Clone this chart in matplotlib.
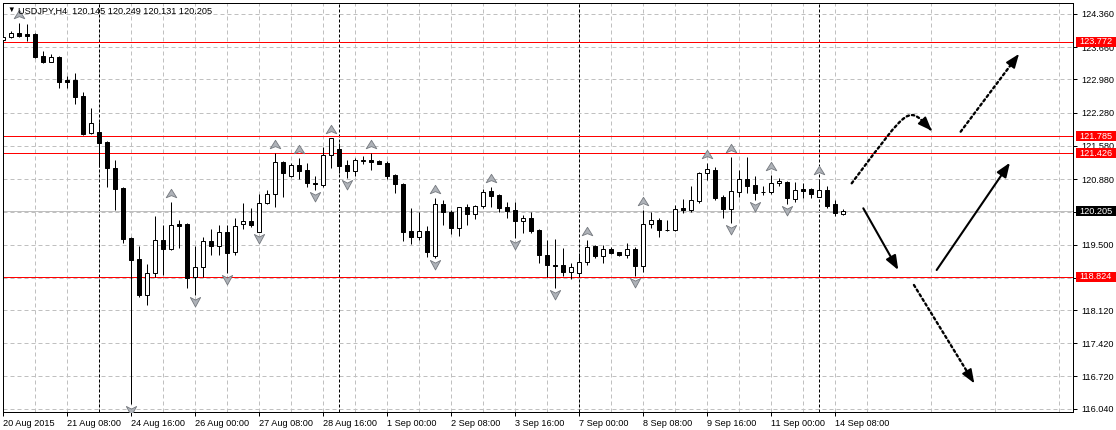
import matplotlib
matplotlib.use("Agg")
import matplotlib.pyplot as plt
import matplotlib.transforms as mtransforms
from matplotlib.path import Path
from matplotlib.patches import FancyArrowPatch, Rectangle

plt.rcParams['font.family'] = ['Liberation Sans', 'DejaVu Sans']

# USDJPY H4 bars, 20 Aug 2015 00:00 .. 14 Sep 2015 04:00
opens = [123.812, 123.869, 123.953, 123.932, 123.938, 123.475, 123.354, 123.453, 122.969, 122.969,
         122.631, 121.845, 121.866, 121.662, 121.114, 120.698, 119.638, 119.189, 118.436, 118.894,
         119.596, 119.406, 119.933, 119.933, 118.810, 119.033, 119.575, 119.476, 119.758, 119.349,
         119.927, 119.996, 119.771, 120.369, 120.559, 121.234, 120.951, 121.177, 121.071, 120.804,
         120.762, 121.388, 121.508, 121.177, 121.057, 121.267, 121.282, 121.261, 121.225, 120.966,
         120.776, 119.786, 119.665, 119.786, 119.259, 120.355, 120.192, 119.842, 120.285, 120.137,
         120.319, 120.629, 120.544, 120.285, 120.228, 120.003, 120.053, 119.807, 119.280, 119.069,
         119.063, 118.921, 118.894, 119.126, 119.469, 119.265, 119.406, 119.337, 119.273, 119.406,
         119.054, 119.927, 120.017, 119.813, 119.807, 120.277, 120.228, 120.424, 121.002, 121.071,
         120.496, 120.243, 120.614, 120.882, 120.755, 120.608, 120.614, 120.791, 120.825, 120.460,
         120.671, 120.671, 120.509, 120.650, 120.355, 120.145]
highs = [123.953, 124.002, 124.164, 124.149, 123.949, 123.580, 123.517, 123.475, 123.053, 123.110,
         122.716, 122.372, 122.083, 121.689, 121.282, 120.719, 119.649, 119.469, 119.084, 120.102,
         119.912, 120.403, 120.017, 119.948, 119.469, 119.653, 119.821, 119.912, 119.912, 120.053,
         120.382, 120.264, 120.559, 120.650, 121.423, 121.261, 121.225, 121.318, 121.225, 120.945,
         121.550, 121.756, 121.634, 121.282, 121.331, 121.367, 121.423, 121.282, 121.267, 120.987,
         120.804, 120.264, 120.192, 119.891, 120.475, 120.439, 120.228, 120.298, 120.348, 120.334,
         120.665, 120.719, 120.555, 120.403, 120.403, 120.123, 120.180, 119.817, 119.596, 119.617,
         119.421, 119.105, 119.315, 119.596, 119.480, 119.490, 119.455, 119.349, 119.526, 119.455,
         120.228, 120.180, 120.053, 120.017, 120.334, 120.454, 120.734, 121.019, 121.213, 121.128,
         120.544, 121.339, 121.071, 121.352, 120.945, 120.734, 120.966, 120.909, 120.835, 120.812,
         120.791, 120.686, 120.875, 120.734, 120.439, 120.249]
lows = [123.801, 123.848, 123.869, 123.797, 123.426, 123.333, 123.348, 122.806, 122.806, 122.463,
        121.809, 121.830, 121.141, 120.719, 120.228, 119.539, 116.139, 118.401, 118.226, 118.822,
        118.858, 119.385, 119.421, 118.590, 118.436, 118.810, 119.280, 119.280, 118.907, 119.280,
        119.821, 119.876, 119.754, 120.355, 120.298, 120.509, 120.930, 120.875, 120.707, 120.650,
        120.719, 121.107, 121.002, 120.897, 120.951, 121.198, 121.071, 121.192, 120.882, 120.580,
        119.581, 119.512, 119.596, 119.244, 119.210, 119.912, 119.722, 119.680, 119.912, 120.038,
        120.264, 120.298, 120.192, 120.053, 119.632, 119.750, 119.750, 119.105, 118.822, 118.578,
        118.837, 118.767, 118.822, 119.069, 119.210, 119.117, 119.301, 119.260, 119.210, 118.843,
        118.928, 119.855, 119.665, 119.792, 119.792, 120.171, 120.192, 120.369, 120.861, 120.439,
        120.053, 119.961, 120.509, 120.593, 120.439, 120.544, 120.566, 120.740, 120.355, 120.403,
        120.475, 120.475, 120.496, 120.264, 120.102, 120.131]
closes = [123.881, 123.953, 123.902, 123.902, 123.460, 123.354, 123.447, 122.933, 122.933, 122.617,
          121.830, 122.056, 121.647, 121.120, 120.677, 119.623, 119.174, 118.436, 118.894, 119.596,
          119.406, 119.912, 119.897, 118.801, 119.033, 119.575, 119.476, 119.758, 119.328, 119.891,
          119.996, 119.912, 120.369, 120.559, 121.234, 121.002, 121.177, 121.057, 120.791, 120.770,
          121.388, 121.740, 121.162, 121.057, 121.282, 121.276, 121.240, 121.204, 120.951, 120.776,
          119.771, 119.665, 119.786, 119.349, 120.348, 120.192, 119.842, 120.285, 120.137, 120.313,
          120.614, 120.530, 120.277, 120.213, 120.003, 120.053, 119.792, 119.280, 119.063, 119.054,
          118.928, 119.020, 119.126, 119.442, 119.259, 119.406, 119.328, 119.269, 119.406, 119.054,
          119.927, 120.017, 119.807, 119.807, 120.256, 120.228, 120.439, 121.002, 121.086, 120.488,
          120.243, 120.629, 120.875, 120.740, 120.593, 120.597, 120.804, 120.840, 120.475, 120.650,
          120.629, 120.566, 120.650, 120.319, 120.159, 120.205]

# fractal indicator bars
fractal_up = [2, 21, 34, 37, 41, 46, 54, 61, 73, 80, 88, 91, 96, 102]
fractal_down = [16, 24, 28, 32, 39, 43, 54, 64, 69, 79, 91, 94, 98]

# horizontal levels and week separators
levels = [123.772, 121.785, 121.426, 118.824]
last_price = 120.205
week_starts = [12, 42, 72, 102]

price_ticks = [124.360, 123.660, 122.980, 122.280, 121.580, 120.880, 120.180,
               119.500, 118.800, 118.120, 117.420, 116.720, 116.040]
time_labels = ['20 Aug 2015', '21 Aug 08:00', '24 Aug 16:00', '26 Aug 00:00', '27 Aug 08:00',
               '28 Aug 16:00', '1 Sep 00:00', '2 Sep 08:00', '3 Sep 16:00', '7 Sep 00:00',
               '8 Sep 08:00', '9 Sep 16:00', '11 Sep 00:00', '14 Sep 08:00']

# forecast arrows (bar index, price)
curve_arrow = [(106.05, 120.791), (113.55, 122.477), (113.02, 122.439), (116.05, 121.900)]
dotted_arrows = [((119.67, 121.879), (126.96, 123.517)),
                 ((113.83, 118.647), (121.37, 116.575))]
solid_arrows = [((107.50, 120.264), (111.87, 118.963)),
                ((116.67, 118.963), (125.83, 121.225))]

W, H = 1116, 430
FS = 6.6
fig = plt.figure(figsize=(W / 100, H / 100), dpi=100)
ax = fig.add_axes([2.5 / W, 1 - 412 / H, 1070.8 / W, 409.5 / H])
ax.set_xlim(-0.104, 133.75)
ax.set_ylim(115.97, 124.602)

px = 0.72  # one pixel in points

# grid
ax.set_axisbelow(True)
ax.set_xticks(range(0, 8 * len(time_labels), 8))
ax.set_xticklabels(time_labels, ha='left', fontsize=FS)
ax.set_xticks(range(4, 134, 8), minor=True)
ax.set_yticks(price_ticks)
ax.set_yticklabels(['%.3f' % p for p in price_ticks], fontsize=FS)
ax.yaxis.tick_right()
ax.tick_params(axis='x', which='major', length=3, width=px, pad=2, direction='out')
ax.tick_params(axis='x', which='minor', length=0)
ax.tick_params(axis='y', length=3, width=px, pad=2.5, direction='out')
ax.grid(True, axis='x', which='both', color='#c0c0c0', lw=px, ls=(0, (4, 3)))
ax.grid(True, axis='y', which='major', color='#c0c0c0', lw=px, ls=(0, (4, 3)))
for s in ax.spines.values():
    s.set_linewidth(px)
    s.set_color('black')

# separators and levels
for b in week_starts:
    ax.axvline(b, color='black', lw=px, ls=(0, (3, 2)), zorder=1.2)
ax.axhline(last_price, color='#c0c0c0', lw=px, zorder=1.3)
for lv in levels:
    ax.axhline(lv, color='#ff0000', lw=px, zorder=1.4, snap=True)

# candles
xs = list(range(len(opens)))
bottoms = [min(o, c) for o, c in zip(opens, closes)]
heights = [abs(c - o) for o, c in zip(opens, closes)]
faces = ['white' if c > o else 'black' for o, c in zip(opens, closes)]
ax.vlines(xs, lows, highs, color='black', lw=px, zorder=2)
ax.bar(xs, heights, bottom=bottoms, width=0.5, color=faces, edgecolor='black',
       linewidth=px, zorder=3)

# fractals
up_path = Path([(0, 1.0), (0.4, 0.36), (0, 0.52), (-0.4, 0.36), (0, 1.0)],
               [Path.MOVETO, Path.LINETO, Path.LINETO, Path.LINETO, Path.CLOSEPOLY])
down_path = Path([(0, -1.0), (0.45, -0.17), (0, -0.4), (-0.45, -0.17), (0, -1.0)],
                 [Path.MOVETO, Path.LINETO, Path.LINETO, Path.LINETO, Path.CLOSEPOLY])
ax.plot(fractal_up, [highs[i] for i in fractal_up], ls='none', marker=up_path, ms=19,
        mfc='#aeb2b8', mec='#74787e', mew=0.6, zorder=4)
ax.plot(fractal_down, [lows[i] for i in fractal_down], ls='none', marker=down_path, ms=16.5,
        mfc='#aeb2b8', mec='#74787e', mew=0.6, zorder=4)

# forecast arrows
head = '-|>,head_length=0.85,head_width=0.33'
dots = (0, (1, 1.3))


def add_head(p_from, p_to):
    # short solid piece that only carries the filled arrow head
    k = 0.08
    start = (p_to[0] - k * (p_to[0] - p_from[0]), p_to[1] - k * (p_to[1] - p_from[1]))
    ax.add_patch(FancyArrowPatch(start, p_to, arrowstyle=head, mutation_scale=10, lw=1.2,
                                 color='black', shrinkA=0, shrinkB=0, zorder=5))


curve = Path(curve_arrow, [Path.MOVETO, Path.CURVE4, Path.CURVE4, Path.CURVE4])
ax.add_patch(FancyArrowPatch(path=curve, arrowstyle='-', mutation_scale=10, lw=1.7,
                             color='black', ls=dots, zorder=5))
add_head(curve_arrow[2], curve_arrow[3])
for a, b in dotted_arrows:
    ax.add_patch(FancyArrowPatch(a, b, arrowstyle='-', mutation_scale=10, lw=1.7,
                                 color='black', ls=dots, shrinkA=0, shrinkB=5, zorder=5))
    add_head(a, b)
for a, b in solid_arrows:
    ax.add_patch(FancyArrowPatch(a, b, arrowstyle=head, mutation_scale=10, lw=1.5,
                                 color='black', shrinkA=0, shrinkB=0, zorder=5))

# price labels on the right scale
trans = mtransforms.blended_transform_factory(ax.transAxes, ax.transData)
box_h = 10 / 47.44
for val, bg in [(lv, '#ff0000') for lv in levels] + [(last_price, 'black')]:
    ax.add_patch(Rectangle((1.0025, val - box_h / 2), 0.0376, box_h, transform=trans,
                           facecolor=bg, edgecolor='none', clip_on=False, zorder=9))
    ax.text(1.0053, val, '%.3f' % val, transform=trans, color='white', fontsize=FS,
            va='center', ha='left', clip_on=False, zorder=10)

# symbol header
fig.text(7 / W, 1 - 10 / H, '\u25bc', fontsize=5.5, va='center', ha='left', color='black')
fig.text(18 / W, 1 - 11 / H, 'USDJPY,H4  120.145 120.249 120.131 120.205', fontsize=FS,
         va='center', ha='left', color='black')

fig.savefig('out.png', dpi=100)
